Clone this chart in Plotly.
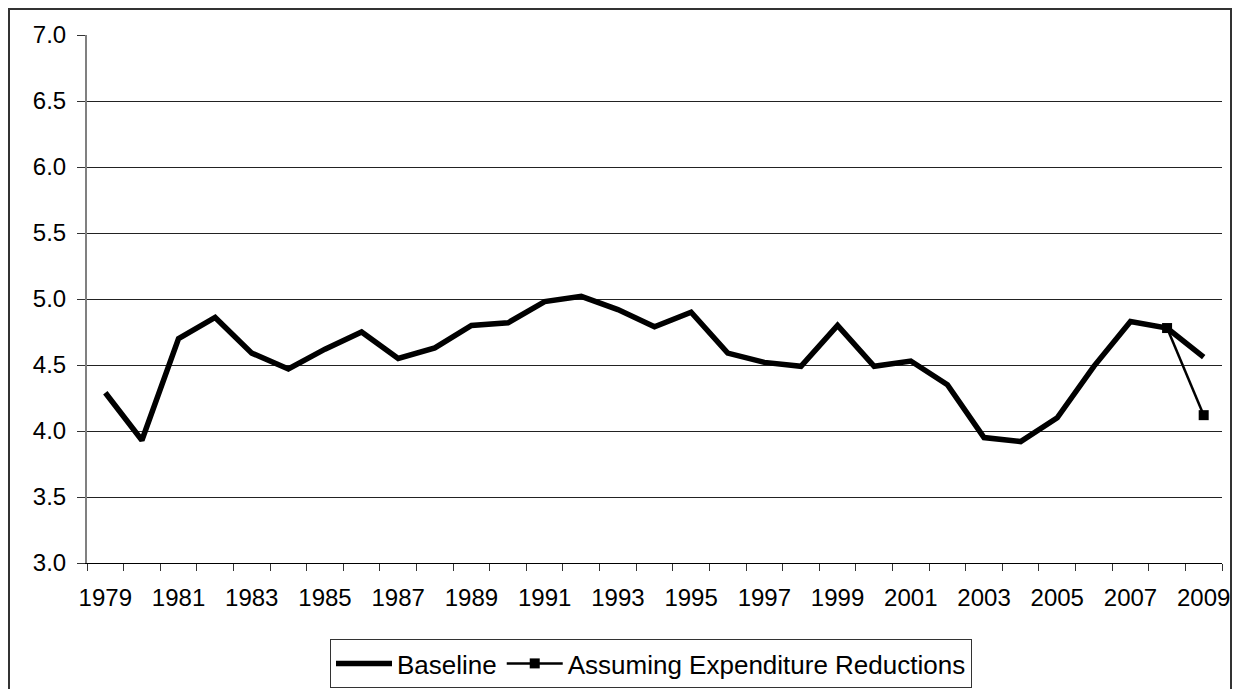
import plotly.graph_objects as go

years = list(range(1979, 2010))
baseline = [4.29, 3.93, 4.70, 4.86, 4.59, 4.47, 4.62, 4.75, 4.55, 4.63,
            4.80, 4.82, 4.98, 5.02, 4.92, 4.79, 4.90, 4.59, 4.52, 4.49,
            4.80, 4.49, 4.53, 4.35, 3.95, 3.92, 4.10, 4.49, 4.83, 4.78, 4.56]
exp_years = [2008, 2009]
expenditure = [4.78, 4.12]

y_ticks = [3.0, 3.5, 4.0, 4.5, 5.0, 5.5, 6.0, 6.5, 7.0]
x_label_years = years[::2]

FONT = "Liberation Sans, Arial, sans-serif"

fig = go.Figure()
fig.add_trace(go.Scatter(
    x=years, y=baseline, mode="lines", name="Baseline",
    line=dict(color="black", width=5.5),
))
fig.add_trace(go.Scatter(
    x=exp_years, y=expenditure, mode="lines+markers",
    name="Assuming Expenditure Reductions",
    line=dict(color="black", width=2.5),
    marker=dict(symbol="square", size=10, color="black"),
))

boundaries = [y - 0.5 for y in years] + [years[-1] + 0.5]

W, H = 1235, 689
L, T = 87, 35
R = W - 1222
B = H - 563
pw = W - L - R
ph = H - T - B


def px_x(p):  # page pixel -> paper
    return (p - L) / pw


def px_y(p):
    return (H - B - p) / ph


fig.update_layout(
    width=W, height=H,
    margin=dict(l=L, r=R, t=T, b=B, autoexpand=False),
    paper_bgcolor="white", plot_bgcolor="white",
    font=dict(family=FONT, color="black", size=24),
    showlegend=True,
    legend=dict(
        orientation="h", x=px_x(651), xanchor="center",
        y=px_y(639), yanchor="top",
        bordercolor="#333333", borderwidth=1,
        font=dict(size=26, family=FONT, color="black"),
        itemwidth=56, tracegroupgap=0,
    ),
    xaxis=dict(
        range=[1978.5, 2009.5],
        tickmode="array", tickvals=x_label_years,
        ticktext=[str(y) for y in x_label_years],
        ticks="outside", ticklen=0, tickcolor="rgba(0,0,0,0)",
        showgrid=False, zeroline=False,
        showline=True, linecolor="black", linewidth=1,
        tickfont=dict(size=24, family=FONT, color="black"),
        ticklabelstandoff=13,
        automargin=False,
        minor=dict(tickmode="array", tickvals=boundaries, ticks="outside",
                   ticklen=7, tickcolor="#333333", tickwidth=1, showgrid=False),
    ),
    yaxis=dict(
        range=[3.0, 7.0],
        tickmode="array", tickvals=y_ticks,
        ticktext=[f"{v:.1f}" for v in y_ticks],
        ticks="outside", ticklen=8, tickcolor="#333333", tickwidth=1,
        showgrid=True, gridcolor="#222222", gridwidth=1,
        zeroline=False,
        showline=True, linecolor="#808080", linewidth=2,
        tickfont=dict(size=24, family=FONT, color="black"),
        ticklabelstandoff=6,
        automargin=False,
    ),
    shapes=[dict(
        type="rect", xref="paper", yref="paper",
        x0=px_x(9), x1=px_x(1231), y0=px_y(720), y1=px_y(9),
        line=dict(color="#333333", width=2), fillcolor="rgba(0,0,0,0)",
        layer="below",
    )],
)

fig.write_html(
    "out.html",
    config={"displayModeBar": False},
    post_script="document.body.style.margin='0';document.body.style.overflow='hidden';",
)
